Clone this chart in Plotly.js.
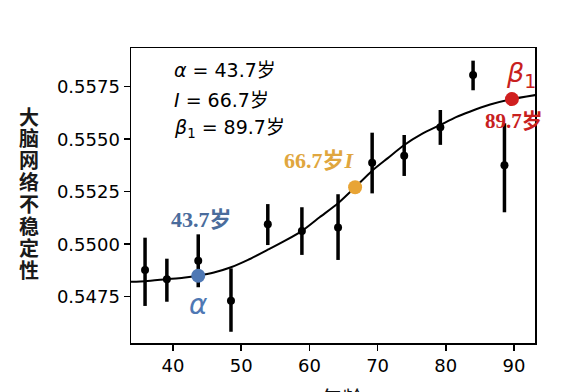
<!DOCTYPE html>
<html>
<head>
<meta charset="utf-8">
<script src="https://cdn.plot.ly/plotly-3.0.1.min.js"></script>
<style>html,body{margin:0;padding:0;background:#fff;}#chart{width:567px;height:392px;}</style>
</head>
<body>
<div id="chart"></div>
<script>
// Observed data (age groups)
const ages = [35.9, 39.1, 43.7, 48.5, 53.9, 58.9, 64.2, 69.2, 73.9, 79.2, 84.0, 88.6];
const instability = [0.54877, 0.54833, 0.54921, 0.54731, 0.55095, 0.55063, 0.5508, 0.55388, 0.55421, 0.55557, 0.55806, 0.55376];
const errPlus  = [0.00154, 0.00098, 0.00126, 0.00154, 0.00096, 0.00113, 0.00158, 0.00143, 0.00099, 0.00082, 0.00068, 0.00200];
const errMinus = [0.00171, 0.00107, 0.00126, 0.00148, 0.00099, 0.00114, 0.00155, 0.00146, 0.00096, 0.00084, 0.00073, 0.00224];

// Fitted curve
const fitAges = [33.8, 36, 39, 41.5, 43.7, 46, 48.5, 51, 54, 56.5, 59, 61.5, 64.2, 66.7, 69.2, 71.5, 73.8, 76.5, 79.2, 81.5, 83.5, 86.5, 89.7, 93.1];
const fitVals = [0.54821, 0.54824, 0.54833, 0.5484, 0.5485, 0.54865, 0.5489, 0.54925, 0.54975, 0.55018, 0.55065, 0.55128, 0.55195, 0.55271, 0.5535, 0.5541, 0.5547, 0.55525, 0.55568, 0.55605, 0.55631, 0.55665, 0.55691, 0.5571];

// Key points
const keyNames = ['α', 'I', 'β1'];
const keyAges = [43.7, 66.7, 89.7];
const keyVals = [0.5485, 0.55271, 0.55691];
const keyColors = ['#4f78b4', '#e8a435', '#d01f1f'];

const xTicks = [40, 50, 60, 70, 80, 90];
const yTicks = [0.5475, 0.5500, 0.5525, 0.5550, 0.5575];
const yTitleChars = ['大', '脑', '网', '络', '不', '稳', '定', '性'];

const traces = [
  {
    x: fitAges, y: fitVals, type: 'scatter', mode: 'lines',
    line: {color: '#000', width: 2, shape: 'spline', smoothing: 0.6},
    hoverinfo: 'skip', showlegend: false
  },
  {
    x: ages, y: instability, type: 'scatter', mode: 'markers',
    marker: {color: '#000', size: 8},
    error_y: {type: 'data', symmetric: false, array: errPlus, arrayminus: errMinus,
              color: '#000', thickness: 3.5, width: 0},
    showlegend: false
  },
  {
    x: keyAges, y: keyVals, type: 'scatter', mode: 'markers',
    marker: {color: keyColors, size: 14},
    text: keyNames, showlegend: false
  }
];

const ann = [];
// Parameter text block
const paramLines = ['<i>α</i> = 43.7岁', '<i>I</i> = 66.7岁', '<i>β</i><sub>1</sub> = 89.7岁'];
const paramY = [0.9254, 0.8237, 0.7288];
paramLines.forEach((t, i) => ann.push({
  xref: 'paper', yref: 'paper', x: 0.1015, y: paramY[i], xanchor: 'left', yanchor: 'middle',
  text: t, showarrow: false, font: {family: 'DejaVu Sans, Noto Sans CJK SC', size: 19, color: '#000'}
}));
// Key point labels
const serif = 'Liberation Serif, Noto Sans CJK SC';
ann.push({x: keyAges[0], y: keyVals[0], xshift: 3, yshift: 56, text: '43.7岁', showarrow: false,
  font: {family: serif, size: 22, weight: 'bold', color: '#4a6c9c'}});
ann.push({x: keyAges[0], y: keyVals[0], xshift: 0, yshift: -29, text: '<i>α</i>', showarrow: false,
  font: {family: 'DejaVu Sans', size: 28, color: '#4f78b4'}});
ann.push({x: keyAges[1], y: keyVals[1], xshift: 2, yshift: 27, xanchor: 'right', text: '66.7岁<i>I</i>', showarrow: false,
  font: {family: serif, size: 22, weight: 'bold', color: '#e0a63e'}});
ann.push({x: keyAges[2], y: keyVals[2], xshift: 9, yshift: 25, text: '<i>β</i><sub>1</sub>', showarrow: false,
  font: {family: 'DejaVu Sans', size: 27, color: '#c8201e'}});
ann.push({x: keyAges[2], y: keyVals[2], xshift: 2, yshift: -22, text: '89.7岁', showarrow: false,
  font: {family: serif, size: 21, weight: 'bold', color: '#c8201e'}});
// Vertical y-axis title (stacked characters)
yTitleChars.forEach((c, i) => ann.push({
  xref: 'paper', yref: 'paper', x: -0.253, y: (343 - (116 + i * 21.9)) / 295,
  xanchor: 'center', yanchor: 'middle', text: c, showarrow: false,
  font: {family: 'Noto Sans CJK SC', size: 20, weight: 'bold', color: '#1a1a1a'}
}));
// x-axis title (cut off at bottom like the reference)
ann.push({xref: 'paper', yref: 'paper', x: 0.522, y: -0.125, xanchor: 'center', yanchor: 'top',
  text: '年龄', showarrow: false, font: {family: 'Noto Sans CJK SC', size: 21, color: '#111'}});

const layout = {
  width: 567, height: 392,
  margin: {l: 131, r: 32, t: 48, b: 49},
  paper_bgcolor: '#fff', plot_bgcolor: '#fff',
  font: {family: 'DejaVu Sans', color: '#000'},
  xaxis: {
    range: [33.84, 93.08], tickvals: xTicks, ticktext: xTicks.map(String),
    showline: true, mirror: true, linecolor: '#000', linewidth: 1.5,
    ticks: 'outside', ticklen: 6, tickwidth: 1.5, tickcolor: '#000',
    showgrid: false, zeroline: false, tickfont: {size: 18, color: '#000'}
  },
  yaxis: {
    range: [0.545295, 0.559343], tickvals: yTicks, ticktext: yTicks.map(v => v.toFixed(4)),
    showline: true, mirror: true, linecolor: '#000', linewidth: 1.5,
    ticks: 'outside', ticklen: 6, tickwidth: 1.5, tickcolor: '#000',
    showgrid: false, zeroline: false, tickfont: {size: 18, color: '#000'}
  },
  annotations: ann,
  showlegend: false
};

Plotly.newPlot('chart', traces, layout, {displayModeBar: false, staticPlot: true});
</script>
</body>
</html>
